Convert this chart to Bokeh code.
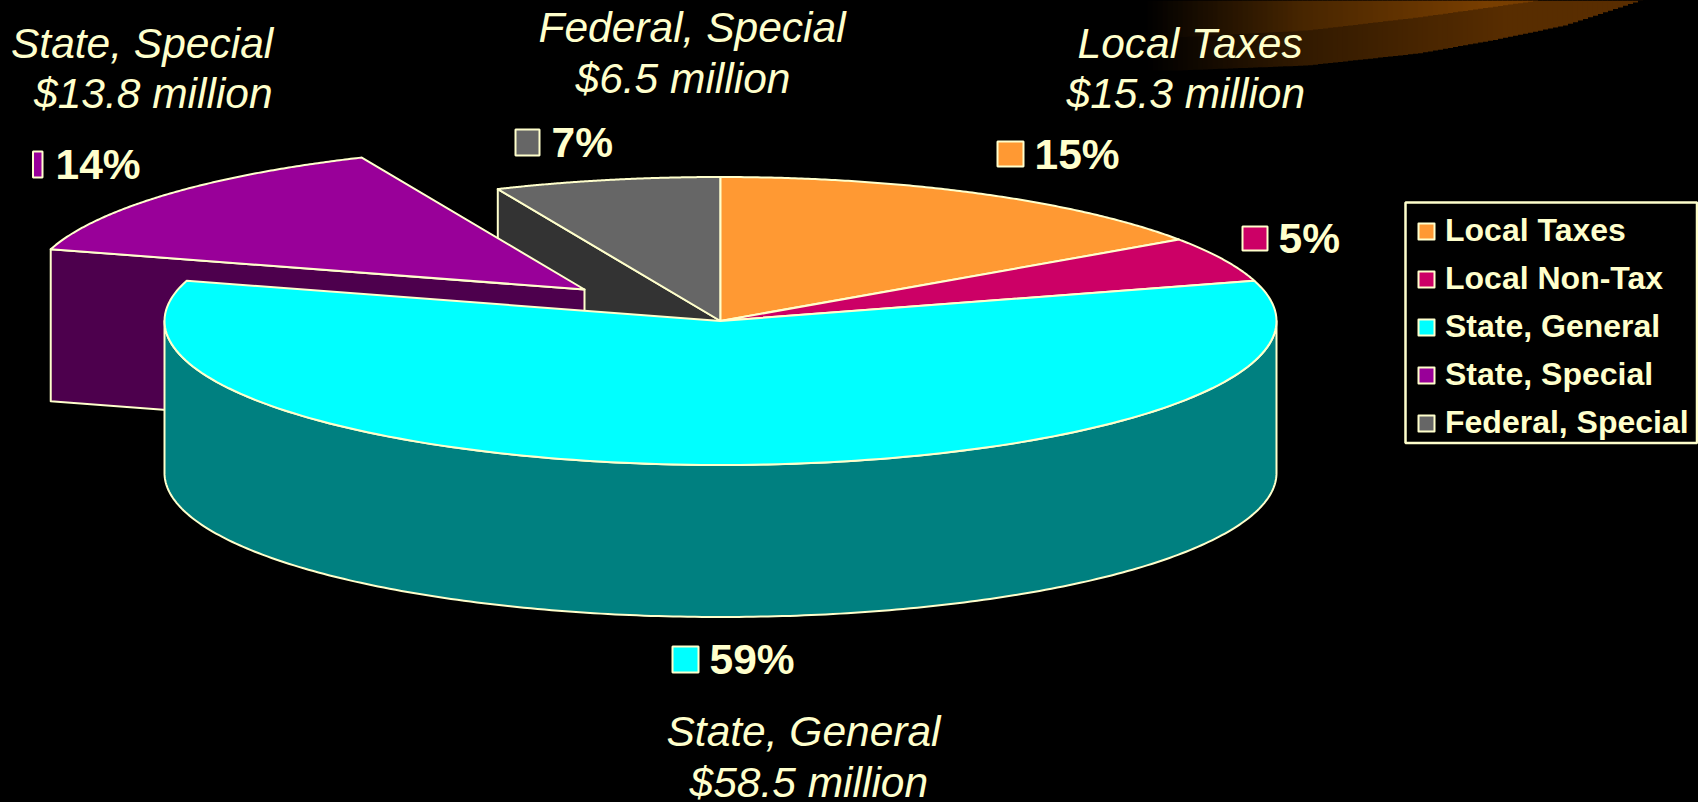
import numpy as np
from bokeh.plotting import figure
from bokeh.models import Range1d, Legend, LegendItem
from bokeh.core.properties import value
from bokeh.embed import file_html
from bokeh.resources import INLINE

# ---- data
categories = ["Local Taxes", "Local Non-Tax", "State, General", "State, Special", "Federal, Special"]
millions = [15.3, 5.0, 58.5, 13.8, 6.5]
percents = ["15%", "5%", "59%", "14%", "7%"]
money = ["$15.3 million", None, "$58.5 million", "$13.8 million", "$6.5 million"]

# ---- styling
TOP = ["#FF9933", "#CC0066", "#00FFFF", "#990099", "#666666"]
SIDE = ["#804D1A", "#660033", "#008080", "#4D004D", "#333333"]
CREAM = "#FFFFCC"
W, H = 1698, 802
CX, CY, A, B, DEPTH = 720, 320.5, 556, 144, 152
OFFSETS = [(0, 0), (0, 0), (0, 0), (-136, -31.5), (0, 0)]
TEXT_SHIFT = -15

p = figure(width=W, height=H, x_range=Range1d(0, W), y_range=Range1d(H, 0),
           output_backend="svg", toolbar_location=None, min_border=0,
           background_fill_color="black", border_fill_color="black", outline_line_color=None)
p.axis.visible = False
p.grid.visible = False

# ---- decorative swoosh, top right
sx = np.arange(1142, 1640, 5.0)
outer = np.interp(sx, [1142, 1175, 1304, 1415, 1489, 1562, 1638, 1640], [70, 70, 65, 53, 40, 25, 0, 0])
inner = np.interp(sx, [1142, 1172, 1304, 1415, 1536, 1640], [38, 37, 30, 17, 0, 0])
def mix(x, xs, rs, gs, bs):
    return ["#%02x%02x%02x" % (int(np.interp(v, xs, rs)), int(np.interp(v, xs, gs)), int(np.interp(v, xs, bs))) for v in x]
p.quad(left=sx, right=sx + 5.5, top=0, bottom=outer, line_color=None,
       fill_color=mix(sx, [1142, 1300, 1500, 1640], [0, 50, 88, 90], [0, 26, 45, 46], [0, 0, 0, 0]))
p.quad(left=sx, right=sx + 5.5, top=0, bottom=inner, line_color=None,
       fill_color=mix(sx, [1142, 1300, 1480, 1640], [0, 72, 120, 120], [0, 38, 62, 62], [0, 0, 0, 0]))

# ---- slice angles from the values (clockwise from 12 o'clock)
fracs = np.array(millions) / sum(millions)
edges = np.radians(90 - 360 * np.concatenate([[0], np.cumsum(fracs)]))

def rim(a0, a1, n=160):
    return np.linspace(a0, a1, n)

kw = dict(line_color=CREAM, line_width=2, line_join="round")

# cut faces of the pieces that stand behind the big slice
t = edges[4]
p.patch([CX + A * np.cos(t), CX, CX, CX + A * np.cos(t)],
        [CY - B * np.sin(t), CY, CY + DEPTH, CY - B * np.sin(t) + DEPTH], fill_color=SIDE[4], **kw)

ox, oy = OFFSETS[3]
t = edges[3]
p.patch([CX + ox + A * np.cos(t), CX + ox, CX + ox, CX + ox + A * np.cos(t)],
        [CY + oy - B * np.sin(t), CY + oy, CY + oy + DEPTH, CY + oy - B * np.sin(t) + DEPTH],
        fill_color=SIDE[3], **kw)

# top faces of back slices
order = [4, 0, 1, 3]
made = {}
for i in order:
    ox, oy = OFFSETS[i]
    th = rim(edges[i], edges[i + 1])
    xs = np.concatenate([[CX + ox], CX + ox + A * np.cos(th)])
    ys = np.concatenate([[CY + oy], CY + oy - B * np.sin(th)])
    made[i] = p.patch(xs, ys, fill_color=TOP[i], **kw)

# wall of the big slice
th = np.radians(np.linspace(180, 360, 240))
wx = np.concatenate([CX + A * np.cos(th), (CX + A * np.cos(th))[::-1]])
wy = np.concatenate([CY - B * np.sin(th), (CY - B * np.sin(th) + DEPTH)[::-1]])
p.patch(wx, wy, fill_color=SIDE[2], **kw)

# top of the big slice
th = rim(edges[2], edges[3])
xs = np.concatenate([[CX], CX + A * np.cos(th)])
ys = np.concatenate([[CY], CY - B * np.sin(th)])
made[2] = p.patch(xs, ys, fill_color=TOP[2], **kw)

# ---- data labels: left, right, top, bottom of the key square, text x, baseline y
keys = {0: (997, 1023, 141, 166, 1034, 168), 1: (1242, 1267, 226, 250, 1278, 252),
        2: (672, 698, 646, 672, 709, 673), 3: (32.5, 42, 151, 177, 55, 178),
        4: (515, 539, 129, 155, 551, 156)}
for i, (l, r, tp, bt, tx, ty) in keys.items():
    p.quad(left=[l], right=[r], top=[tp], bottom=[bt], fill_color=TOP[i], line_color=CREAM, line_width=2)
    p.text([tx], [ty + TEXT_SHIFT + 1], text=[percents[i]], text_color=CREAM, text_font=value("Liberation Sans"),
           text_font_style="bold", text_font_size="42.5px", text_baseline="alphabetic")

# ---- italic notes
notes = {3: (10.5, 58, 33.5, 108), 4: (538, 42, 575, 93), 0: (1077, 58, 1066, 108), 2: (666, 746, 689, 797)}
for i, (x1, y1, x2, y2) in notes.items():
    for x, y, s in [(x1, y1, categories[i]), (x2, y2, money[i])]:
        p.text([x], [y + TEXT_SHIFT], text=[s], text_color=CREAM, text_font=value("Liberation Sans"),
               text_font_style="italic", text_font_size="42.5px", text_baseline="alphabetic")

# ---- legend frame, then legend
p.quad(left=[1405], right=[1696.5], top=[202], bottom=[442.5], fill_color="black",
       line_color=CREAM, line_width=2.5)
legend = Legend(items=[LegendItem(label=c, renderers=[made[i]]) for i, c in enumerate(categories)],
                location=(1416, H - 441), orientation="vertical",
                background_fill_alpha=0, border_line_color=None,
                label_text_color=CREAM, label_text_font="Liberation Sans", label_text_font_style="bold",
                label_text_font_size="32px", label_standoff=9, glyph_width=20, glyph_height=20,
                label_height=20, spacing=11, padding=0, margin=0)
p.add_layout(legend)

html = file_html(p, INLINE)
html = html.replace("<head>", "<head><style>html,body{margin:0;padding:0;background:#000;overflow:hidden}</style>", 1)
open("out.html", "w").write(html)
